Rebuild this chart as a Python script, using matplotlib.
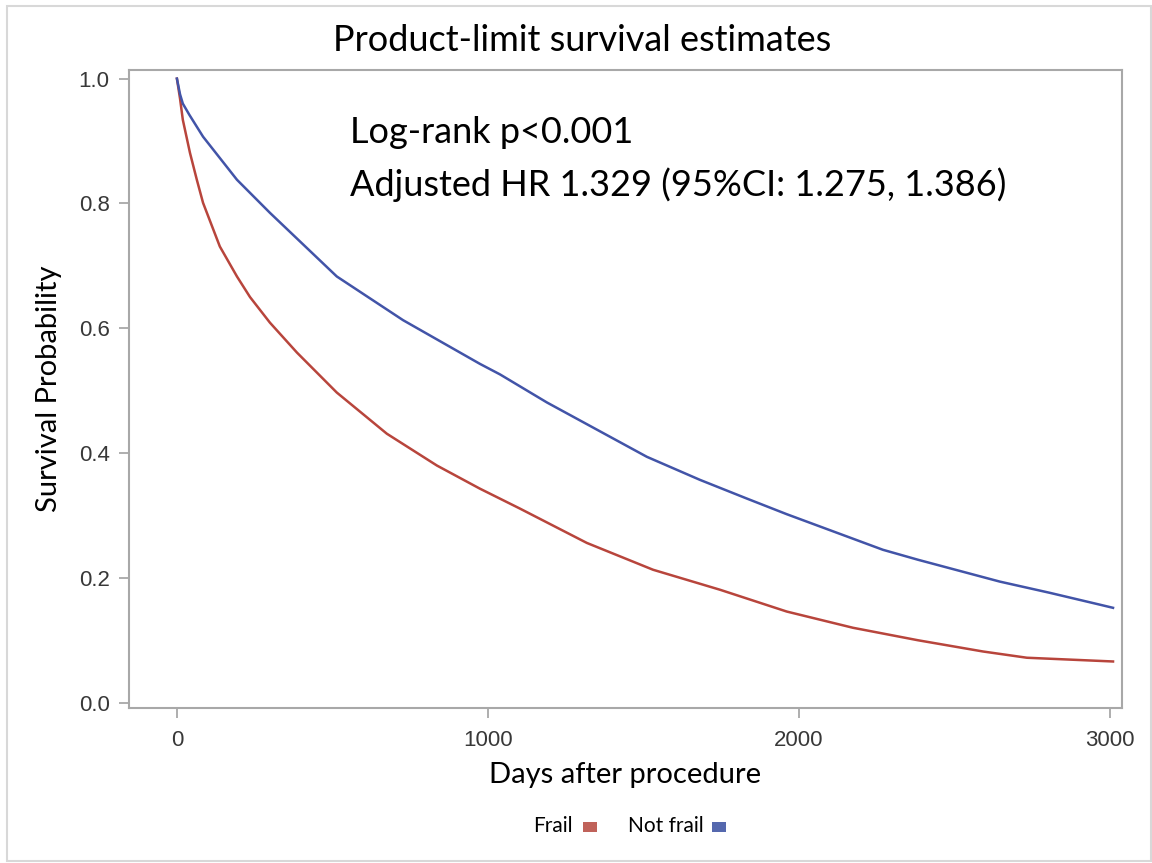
import matplotlib
matplotlib.use('Agg')
import matplotlib.pyplot as plt
from matplotlib.patches import Rectangle

# survival estimates read at selected follow-up days
days_not_frail = [0, 10, 19, 40, 84, 193, 299, 514, 727, 974, 1039, 1190, 1511,
                  1682, 1833, 1961, 2270, 2383, 2646, 2807, 2968, 3010]
surv_not_frail = [1.0, 0.975, 0.960, 0.942, 0.907, 0.838, 0.785, 0.683, 0.613,
                  0.543, 0.526, 0.481, 0.394, 0.357, 0.327, 0.302, 0.245,
                  0.229, 0.194, 0.176, 0.157, 0.152]

days_frail = [0, 10, 19, 42, 64, 84, 138, 193, 235, 299, 386, 514, 675, 836, 974,
              1103, 1318, 1531, 1746, 1961, 2174, 2383, 2592, 2733, 3010]
surv_frail = [1.0, 0.968, 0.934, 0.881, 0.838, 0.801, 0.731, 0.683, 0.650, 0.609,
              0.561, 0.497, 0.431, 0.380, 0.343, 0.311, 0.256, 0.213, 0.181, 0.146,
              0.120, 0.100, 0.082, 0.072, 0.066]

x_ticks = [0, 1000, 2000, 3000]
y_ticks = [0.0, 0.2, 0.4, 0.6, 0.8, 1.0]

red = '#B8453C'
blue = '#4254A8'
grey = '#A8A8A8'
text_font = 'Lato'
tick_font = 'Liberation Sans'

fig = plt.figure(figsize=(11.52, 8.63), dpi=100)
fig.patches.append(Rectangle((0.006, 0.002), 0.993, 0.991, transform=fig.transFigure,
                             fill=False, edgecolor='#D8D8D8', linewidth=1.5))

ax = fig.add_axes([0.112, 0.180, 0.862, 0.739])
ax.plot(days_frail, surv_frail, color=red, linewidth=1.8)
ax.plot(days_not_frail, surv_not_frail, color=blue, linewidth=1.8)

ax.set_xlim(-154, 3039)
ax.set_ylim(-0.008, 1.014)
ax.set_xticks(x_ticks)
ax.set_yticks(y_ticks)
ax.set_yticklabels([f'{v:.1f}' for v in y_ticks])

for spine in ax.spines.values():
    spine.set_color(grey)
    spine.set_linewidth(1.5)
ax.tick_params(direction='out', length=7, width=1.3, color=grey,
               labelsize=16, labelcolor='#383838', pad=7)
ax.tick_params(axis='x', pad=9)
for lab in ax.get_xticklabels() + ax.get_yticklabels():
    lab.set_fontfamily(tick_font)

ax.set_xlabel('Days after procedure', fontsize=21, family=text_font, labelpad=8)
ax.set_ylabel('Survival Probability', fontsize=21, family=text_font, labelpad=12)

fig.text(0.505, 0.953, 'Product-limit survival estimates', ha='center', va='center',
         fontsize=26, family=text_font)

fig.text(0.304, 0.846, 'Log-rank p<0.001', ha='left', va='center',
         fontsize=26, family=text_font)
fig.text(0.304, 0.786, 'Adjusted HR 1.329 (95%CI: 1.275, 1.386)', ha='left',
         va='center', fontsize=26, family=text_font)

# legend row under the x axis label
fig.text(0.497, 0.043, 'Frail', ha='right', va='center', fontsize=15, family=text_font)
fig.patches.append(Rectangle((0.506, 0.036), 0.012, 0.012, transform=fig.transFigure,
                             facecolor='#C0625A', edgecolor='none'))
fig.text(0.545, 0.043, 'Not frail', ha='left', va='center', fontsize=15, family=text_font)
fig.patches.append(Rectangle((0.618, 0.036), 0.012, 0.012, transform=fig.transFigure,
                             facecolor='#5568AE', edgecolor='none'))

fig.savefig('out.png', dpi=100)
